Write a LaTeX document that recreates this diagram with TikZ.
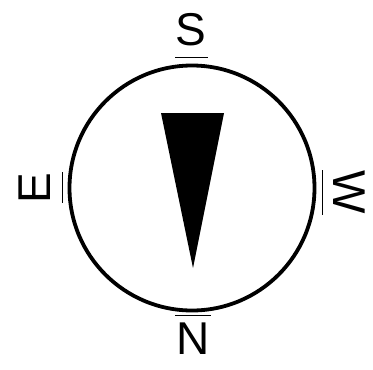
\documentclass[tikz,border=0pt]{standalone}
\usepackage{fontspec}
\setmainfont{Liberation Sans}
\usetikzlibrary{positioning}

\begin{document}
\begin{tikzpicture}[
  x=1pt, y=-1pt,
  every node/.style={font=\fontsize{46}{46}\selectfont, inner sep=0pt},
  dial/.style={draw, line width=3.8pt, circle, minimum size=245pt},
  tick/.style={line width=0.8pt},
]
\useasboundingbox (0,0) rectangle (373,370);

\node[dial] (dial) at (192,188) {};

% needle
\fill (161,113) -- (224,113) -- (193,268) -- cycle;

% cardinal letters
\node (south) at (191,30) {S};
\node (north) at (193,339) {N};
\node[rotate=90] (east) at (34.5,188.5) {E};
\node[rotate=-90] (west) at (349.5,192) {W};

% marks between letters and dial
\draw[tick] (175,57) -- (208,57);
\draw[tick] (175,315) -- (211,315);
\draw[tick] (62,172) -- (62,203);
\draw[tick] (322,170) -- (322,215);
\end{tikzpicture}
\end{document}
